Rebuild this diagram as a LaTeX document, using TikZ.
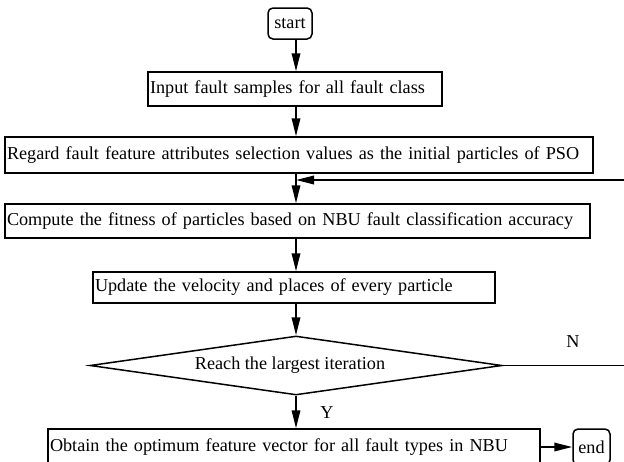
\documentclass[tikz,border=0pt]{standalone}
\usepackage{fontspec}
\setmainfont{Liberation Serif}
\usetikzlibrary{arrows.meta,shapes.geometric}
\begin{document}
\begin{tikzpicture}[x=1pt,y=-1pt,
  every node/.style={font=\fontsize{18.2}{22}\selectfont},
  box/.style={draw, line width=1.5pt, inner xsep=2pt, inner ysep=0pt, align=left, anchor=center},
  term/.style={draw, line width=1.5pt, rounded corners=5pt, inner sep=0pt, align=center},
  dia/.style={draw, line width=1.5pt, diamond, aspect=7, inner sep=0pt},
  arr/.style={line width=1.8pt, -{Triangle[length=18pt,width=8.5pt]}},
  lin/.style={line width=1.8pt}]
\useasboundingbox (0,0) rectangle (624,461);
\coordinate (sp) at (296,0);
\node[term, minimum width=44pt, minimum height=31pt] (start) at (290,23.5) {start};
\node[box, text width=290pt, minimum height=34pt] (b1) at (295,89) {\mbox{Input fault samples for all fault class}};
\node[box, text width=584pt, minimum height=36pt] (b2) at (299,155) {\mbox{Regard fault feature attributes selection values as the initial particles of PSO}};
\node[box, text width=581pt, minimum height=34pt] (b3) at (297.5,221) {\mbox{Compute the fitness of particles based on NBU fault classification accuracy}};
\node[box, text width=398pt, minimum height=31pt] (b4) at (294,287.5) {\mbox{Update the velocity and places of every particle}};
\node[dia, minimum width=412pt, minimum height=59pt] (d) at (296,365.5) {\kern-12pt Reach the largest iteration};
\node[box, text width=488pt, minimum height=36pt] (b5) at (294,447) {\mbox{Obtain the optimum feature vector for all fault types in NBU}};
\node[term, minimum width=37pt, minimum height=36pt] (end) at (591.5,447) {end};
\node (N) at (573,342) {N};
\node (Y) at (327,413) {Y};
\coordinate (fb) at (640,180);
\coordinate (fr) at (640,365.5);
\draw[arr] (start.south -| sp) -- (b1.north -| sp);
\draw[arr] (b1.south -| sp) -- (b2.north -| sp);
\draw[arr] (b2.south -| sp) -- (b3.north -| sp);
\draw[arr] (b3.south -| sp) -- (b4.north -| sp);
\draw[arr] (b4.south -| sp) -- (d.north);
\draw[arr] (d.south) -- (b5.north -| sp);
\draw[lin] (d.east) -- (fr) -- (fb);
\draw[arr] (fb) -- (fb -| sp);
\draw[arr] (b5.east) -- (end.west);
\end{tikzpicture}
\end{document}
